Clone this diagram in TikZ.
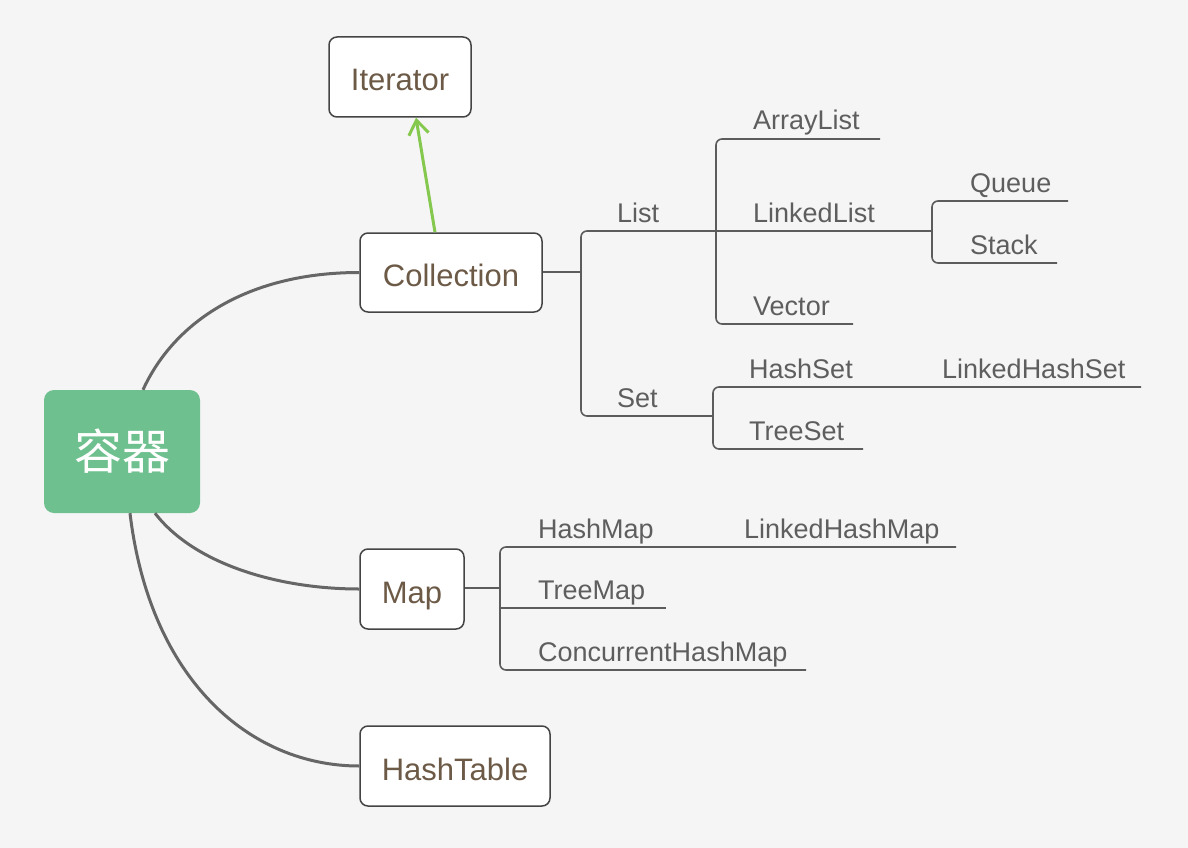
\documentclass[tikz,border=0pt]{standalone}
\usepackage{fontspec}
\setmainfont{Liberation Sans}
\newfontfamily\cjk{Noto Sans CJK SC}
\usetikzlibrary{arrows.meta}
\definecolor{bg}{HTML}{F5F5F5}
\definecolor{rootgreen}{HTML}{6FC08F}
\definecolor{nodetext}{HTML}{6C5A47}
\definecolor{leaftext}{HTML}{5E5E5E}
\definecolor{linegray}{HTML}{5C5C5C}
\definecolor{curvegray}{HTML}{666666}
\definecolor{boxborder}{HTML}{444444}
\definecolor{arrowgreen}{HTML}{85C84E}
\tikzset{
  topicbox/.style={draw=boxborder, line width=1.5pt, fill=white, rounded corners=8pt,
    text=nodetext, font=\fontsize{31}{36}\selectfont, inner sep=0pt,
    text height=28pt, text depth=0pt},
  rootbox/.style={fill=rootgreen, rounded corners=10pt, text=white,
    font=\cjk\fontsize{48}{56}\selectfont, inner sep=0pt,
    minimum width=156pt, minimum height=123pt},
  leaf/.style={anchor=base west, inner sep=0pt, text=leaftext, font=\fontsize{27}{31}\selectfont},
  branch/.style={draw=linegray, line width=1.6pt},
  bracket/.style={branch, rounded corners=6pt},
  maincurve/.style={draw=curvegray, line width=3pt},
}
\begin{document}
\begin{tikzpicture}[x=1pt,y=-1pt]
\fill[bg] (0,0) rectangle (1188,848);
\useasboundingbox (0,0) rectangle (1188,848);

% topic nodes
\node[rootbox] (root) at (122,451.5) {容器};
\node[topicbox, minimum width=182pt, minimum height=79pt] (coll) at (451,272.5) {Collection};
\node[topicbox, minimum width=142pt, minimum height=80pt] (iter) at (400,77) {Iterator};
\node[topicbox, minimum width=104pt, minimum height=80pt] (map) at (412,589) {Map};
\node[topicbox, minimum width=190pt, minimum height=80pt] (htab) at (455,766) {HashTable};

% main curves
\draw[maincurve] ([xshift=21pt]root.north) .. controls (175,320) and (250,272.5) .. (coll.west);
\draw[maincurve] ([xshift=33pt]root.south) .. controls (195,565) and (280,589) .. (map.west);
\draw[maincurve] ([xshift=8pt]root.south) .. controls (150,680) and (250,766) .. (htab.west);

% green arrow
\draw[draw=arrowgreen, line width=3pt, -{Straight Barb[length=14pt,width=20pt,line width=3pt]}]
  ([xshift=-16pt]coll.north) -- ([xshift=16pt]iter.south);

% coordinates
\coordinate (cj) at (581,272);
\coordinate (listL) at (581,231);
\coordinate (listR) at (716,231);
\coordinate (setL) at (581,416);
\coordinate (setR) at (713,416);
\coordinate (qj) at (932,231);
\coordinate (mj) at (500,588);

% leaf labels
\node[leaf] (list) at (617,222) {List};
\node[leaf] (arraylist) at (753,130) {ArrayList};
\node[leaf] (linkedlist) at (753,222) {LinkedList};
\node[leaf] (vector) at (753,315) {Vector};
\node[leaf] (queue) at (970,192) {Queue};
\node[leaf] (stack) at (970,254) {Stack};
\node[leaf] (set) at (617,407) {Set};
\node[leaf] (hashset) at (749,378) {HashSet};
\node[leaf] (lhashset) at (942,378) {LinkedHashSet};
\node[leaf] (treeset) at (749,440) {TreeSet};
\node[leaf] (hashmap) at (538,538) {HashMap};
\node[leaf] (lhashmap) at (744,538) {LinkedHashMap};
\node[leaf] (treemap) at (538,599) {TreeMap};
\node[leaf] (chashmap) at (538,661) {ConcurrentHashMap};

% Collection branches
\draw[branch] (coll.east |- cj) -- (cj);
\draw[bracket] (listR) -- (listL) -- (setL) -- (setR);
\draw[bracket] (880,139) -- (716,139) -- (716,324) -- (853,324);
\draw[branch] (listR) -- (qj);
\draw[bracket] (1068,201) -- (932,201) -- (932,263) -- (1057,263);
\draw[bracket] (1141,387) -- (713,387) -- (713,449) -- (863,449);

% Map branches
\draw[branch] (map.east |- mj) -- (mj);
\draw[bracket] (956,547) -- (500,547) -- (500,670) -- (806,670);
\draw[branch] (500,608) -- (666,608);
\end{tikzpicture}
\end{document}
